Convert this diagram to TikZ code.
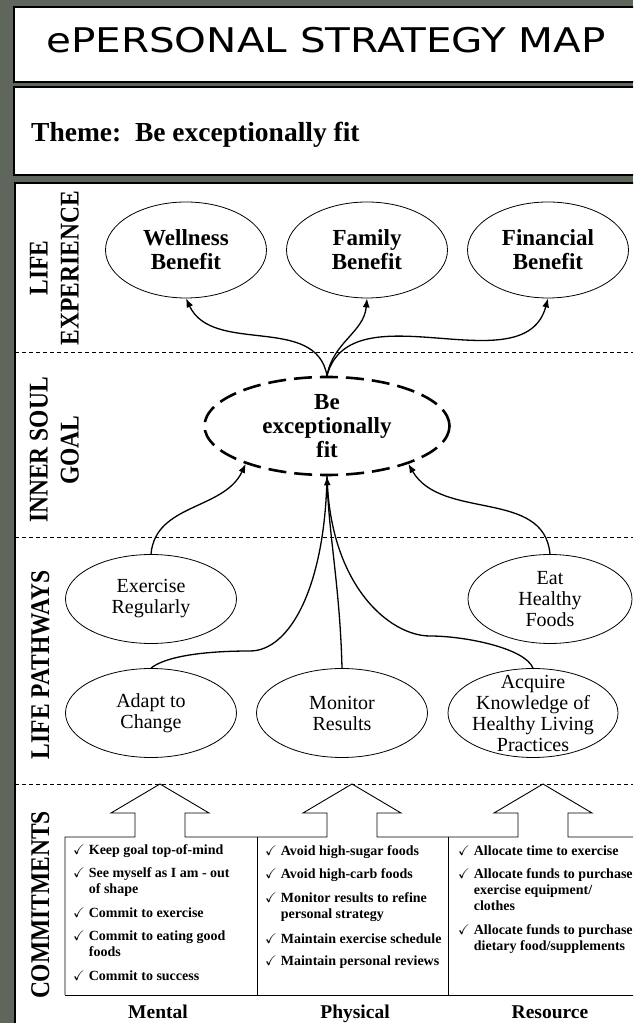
\documentclass[tikz,border=0pt]{standalone}
\usepackage{amssymb}
\usepackage{graphicx}
\usepackage{fontspec}
\setmainfont{Liberation Serif}
\newfontfamily\titlefont{DejaVu Sans}
\usetikzlibrary{shapes.geometric}
\usetikzlibrary{arrows.meta}
\usetikzlibrary{positioning}
\definecolor{framegray}{RGB}{95,102,92}
\newcommand{\chk}{\checkmark}
\newcommand{\tallstack}[1]{\scalebox{1}[1.15]{\begin{tabular}{@{}c@{}}#1\end{tabular}}}

\begin{document}
\begin{tikzpicture}[x=1pt, y=1pt,
box/.style = {draw=black, fill=white, line width=1.2pt},
oval/.style = {ellipse, draw, line width=0.8pt, inner sep=0pt},
benefit/.style = {oval, minimum width=161pt, minimum height=96pt},
pathway/.style = {oval, minimum width=171pt, minimum height=89pt},
goaloval/.style = {ellipse, draw, line width=2.6pt, dash pattern=on 18pt off 8pt,
  minimum width=245pt, minimum height=98pt, inner sep=0pt},
btext/.style = {align=center, font=\fontsize{23}{24}\selectfont\bfseries},
ptext/.style = {align=center, font=\fontsize{20}{21}\selectfont},
side/.style = {rotate=90, inner sep=0pt, font=\fontsize{23.5}{27}\selectfont\bfseries},
items/.style = {anchor=base west, inner sep=0pt, font=\fontsize{14}{16}\selectfont\bfseries},
coltitle/.style = {anchor=base, inner sep=0pt, font=\fontsize{19.5}{22}\selectfont\bfseries},
rowline/.style = {line width=0.8pt, dash pattern=on 4pt off 3pt},
edge/.style = {line width=1.3pt, -{Latex[length=9pt,width=7pt]}},
link/.style = {line width=1.3pt}]
\useasboundingbox (0,0) rectangle (633,1023);
\clip (0,0) rectangle (633,1023);
\fill[framegray] (0,0) rectangle (633,1023);

% header boxes
\draw[box] (14,941) rectangle (645,1016);
\draw[box] (14,848) rectangle (645,936);
\node[anchor=base, inner sep=0pt, font=\titlefont\fontsize{34}{40}\selectfont] (title) at (326,970)
  {\scalebox{1.19}[1]{ePERSONAL STRATEGY MAP}};
\node[anchor=base west, inner sep=0pt, font=\fontsize{27.5}{30}\selectfont\bfseries] (theme) at (31,881)
  {Theme:\ \ Be exceptionally fit};

% main map
\draw[box] (15,-10) rectangle (645,840);
\draw[rowline] (15,671) -- (633,671);
\draw[rowline] (15,486) -- (633,486);
\draw[rowline] (15,239) -- (633,239);

\node[side] (lifeexp) at (57,755) {\tallstack{LIFE\\EXPERIENCE}};
\node[side] (innersoul) at (57,573) {\tallstack{INNER SOUL\\GOAL}};
\node[side] (pathways) at (43,358) {\tallstack{LIFE PATHWAYS}};
\node[side] (commit) at (43,118) {\tallstack{COMMITMENTS}};

% life experience
\node[benefit] (wellness) at (186,773) {};
\node[btext] (wellness-t) at (wellness) {Wellness\\Benefit};
\node[benefit] (family) at (367,773) {};
\node[btext] (family-t) at (family) {Family\\Benefit};
\node[benefit] (financial) at (548,773) {};
\node[btext] (financial-t) at (financial) {Financial\\Benefit};

% goal
\node[goaloval] (goal) at (327,597) {};
\node[btext] (goal-t) at (goal) {Be\\exceptionally\\fit};

% pathways
\node[pathway] (exercise) at (151,424) {};
\node[ptext] (exercise-t) at (exercise) {Exercise\\Regularly};
\node[pathway, minimum width=164pt] (eat) at (550,424) {};
\node[ptext] (eat-t) at (eat) {Eat\\Healthy\\Foods};
\node[pathway] (adapt) at (151,310) {};
\node[ptext] (adapt-t) at (adapt) {Adapt to\\Change};
\node[pathway] (monitor) at (342,310) {};
\node[ptext] (monitor-t) at (monitor) {Monitor\\Results};
\node[pathway, minimum width=170pt] (acquire) at (533,310) {};
\node[ptext] (acquire-t) at (acquire) {Acquire\\Knowledge of\\Healthy Living\\Practices};

% connectors
\draw[edge] (goal.north) to[out=100,in=-65] (wellness.south);
\draw[edge] (goal.north) to[out=80,in=-95] (family.south);
\draw[edge] (goal.north) to[out=75,in=-105] (financial.south);
\draw[edge] (exercise.north) to[out=85,in=-115] (goal.-155);
\draw[edge] (eat.north) to[out=95,in=-60] (goal.-25);
\draw[link] (adapt.north) .. controls +(15,12) and +(-45,0) .. (250,372)
  .. controls +(40,0) and +(-2,-110) .. (goal.south);
\draw[link] (acquire.north) .. controls +(-8,20) and +(35,0) .. (430,387)
  .. controls +(-40,0) and +(3,-110) .. (goal.south);
\draw[edge] (monitor.north) .. controls +(-2,80) and +(2,-60) .. (goal.south);

% commitments
\draw[line width=0.9pt] (65,28) -- (65,186)
  foreach \cx in {160,352,543} { -- (\cx-25,186) -- (\cx-25,210) -- (\cx-49,210)
    -- (\cx,239) -- (\cx+49,210) -- (\cx+25,210) -- (\cx+25,186) }
  -- (640,186);
\draw[line width=0.9pt] (65,28) -- (640,28);
\draw[line width=0.9pt] (257,28) -- (257,186);
\draw[line width=0.9pt] (448,28) -- (448,186);

\node[items] (mentallist) at (73,168) {\begin{tabular}[t]{@{}l@{\hspace{4pt}}l@{}}
\chk & Keep goal top-of-mind\\[7pt]
\chk & See myself as I am - out\\
 & of shape\\[8pt]
\chk & Commit to exercise\\[7pt]
\chk & Commit to eating good\\
 & foods\\[8pt]
\chk & Commit to success
\end{tabular}};
\node[items] (physlist) at (265,167) {\begin{tabular}[t]{@{}l@{\hspace{4pt}}l@{}}
\chk & Avoid high-sugar foods\\[7pt]
\chk & Avoid high-carb foods\\[8pt]
\chk & Monitor results to refine\\
 & personal strategy\\[9pt]
\chk & Maintain exercise schedule\\[6pt]
\chk & Maintain personal reviews
\end{tabular}};
\node[items] (reslist) at (458,167) {\begin{tabular}[t]{@{}l@{\hspace{4pt}}l@{}}
\chk & Allocate time to exercise\\[7pt]
\chk & Allocate funds to purchase\\
 & exercise equipment/\\
 & clothes\\[8pt]
\chk & Allocate funds to purchase\\
 & dietary food/supplements
\end{tabular}};

\node[coltitle] (mental) at (158,5) {Mental};
\node[coltitle] (physical) at (355,5) {Physical};
\node[coltitle] (resource) at (550,5) {Resource};
\end{tikzpicture}
\end{document}
